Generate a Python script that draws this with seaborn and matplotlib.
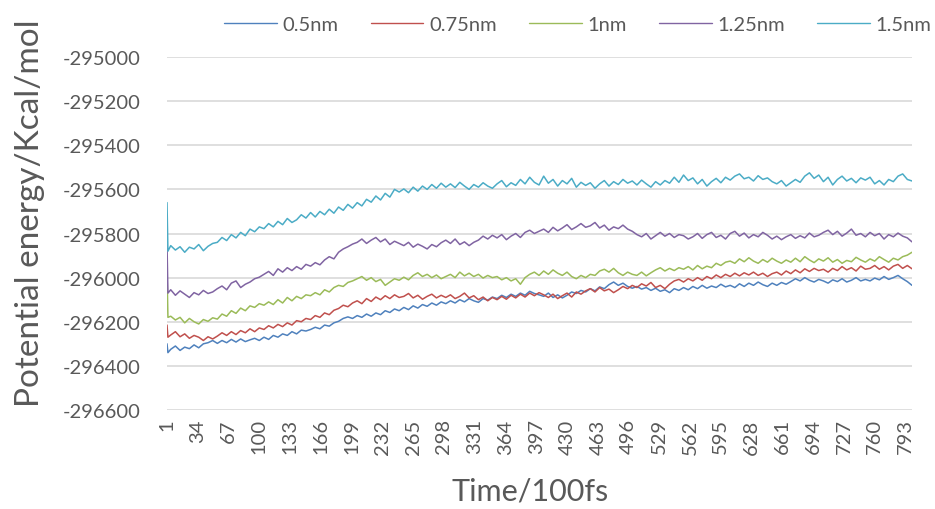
import matplotlib
matplotlib.use("Agg")
import matplotlib.pyplot as plt
import seaborn as sns
import pandas as pd

# ---------------- data ----------------
SERIES = ["0.5nm", "0.75nm", "1nm", "1.25nm", "1.5nm"]
COLORS = ["#4F81BD", "#C0504D", "#9BBB59", "#8064A2", "#4BACC6"]

TIME = [1, 2] + list(range(5, 801, 5))

E_05 = [-296300, -296340,
        -296325, -296310, -296330, -296315, -296322, -296305, -296318, -296300, -296295, -296285,
        -296298, -296285, -296295, -296280, -296292, -296278, -296290, -296282, -296275, -296285,
        -296270, -296280, -296262, -296270, -296255, -296262, -296245, -296255, -296238, -296242,
        -296235, -296225, -296232, -296215, -296220, -296205, -296198, -296185, -296178, -296185,
        -296172, -296180, -296165, -296175, -296160, -296168, -296150, -296158, -296142, -296150,
        -296135, -296145, -296128, -296138, -296122, -296130, -296115, -296125, -296110, -296118,
        -296105, -296115, -296100, -296110, -296095, -296105, -296112, -296095, -296102, -296088,
        -296095, -296080, -296090, -296075, -296085, -296070, -296080, -296062, -296072, -296078,
        -296085, -296070, -296090, -296078, -296092, -296080, -296065, -296072, -296058, -296065,
        -296050, -296060, -296042, -296050, -296032, -296020, -296035, -296025, -296040, -296048,
        -296040, -296052, -296045, -296058, -296048, -296062, -296055, -296068, -296050, -296058,
        -296045, -296055, -296040, -296050, -296035, -296048, -296038, -296045, -296030, -296042,
        -296035, -296045, -296028, -296040, -296025, -296035, -296020, -296032, -296040, -296025,
        -296035, -296022, -296030, -296018, -296005, -296015, -296000, -296012, -296020, -296008,
        -296015, -296025, -296010, -296018, -296005, -296020, -296012, -296000, -296015, -296008,
        -296015, -296002, -296010, -295995, -296008, -296000, -295990, -296005, -296018, -296035]

E_075 = [-296215, -296270,
         -296260, -296245, -296268, -296255, -296275, -296262, -296270, -296285, -296268, -296278,
         -296265, -296250, -296262, -296245, -296258, -296240, -296250, -296232, -296245, -296228,
         -296235, -296218, -296228, -296212, -296222, -296205, -296215, -296195, -296200, -296185,
         -296190, -296172, -296180, -296160, -296168, -296148, -296140, -296125, -296132, -296115,
         -296105, -296118, -296095, -296108, -296088, -296100, -296082, -296095, -296078, -296090,
         -296085, -296072, -296092, -296080, -296098, -296085, -296075, -296092, -296080, -296090,
         -296078, -296095, -296085, -296070, -296092, -296082, -296100, -296088, -296105, -296090,
         -296100, -296085, -296098, -296080, -296092, -296075, -296088, -296070, -296082, -296068,
         -296078, -296090, -296075, -296095, -296082, -296070, -296088, -296065, -296075, -296060,
         -296050, -296065, -296045, -296060, -296052, -296068, -296055, -296040, -296050, -296035,
         -296045, -296028, -296038, -296022, -296045, -296035, -296050, -296030, -296015, -296008,
         -296020, -296005, -296015, -296000, -296012, -295995, -296005, -295988, -296000, -295985,
         -295995, -295980, -295992, -295978, -295988, -295975, -295990, -295980, -295995, -295982,
         -295975, -295988, -295970, -295982, -295965, -295978, -295960, -295972, -295958, -295968,
         -295962, -295975, -295958, -295968, -295950, -295965, -295955, -295970, -295948, -295962,
         -295958, -295945, -295962, -295950, -295965, -295948, -295940, -295958, -295945, -295960]

E_1 = [-295970, -296180,
       -296175, -296192, -296180, -296205, -296185, -296200, -296210, -296190, -296198, -296182,
       -296188, -296165, -296175, -296150, -296162, -296138, -296150, -296128, -296135, -296118,
       -296125, -296110, -296122, -296100, -296115, -296090, -296105, -296085, -296095, -296078,
       -296082, -296068, -296078, -296055, -296065, -296045, -296035, -296040, -296022, -296015,
       -296005, -295995, -296012, -296000, -296018, -296008, -296035, -296020, -296005, -296012,
       -295998, -296010, -295990, -295978, -295995, -295985, -296000, -295988, -296005, -295995,
       -295985, -296000, -295975, -295992, -295980, -295995, -295985, -296002, -295990, -296000,
       -295995, -296010, -296000, -296015, -296005, -296030, -296000, -295985, -295975, -295990,
       -295970, -295985, -295965, -295980, -295990, -295975, -295995, -296005, -295990, -296000,
       -295985, -295990, -295970, -295962, -295975, -295958, -295978, -295990, -295975, -295985,
       -295990, -295975, -295992, -295978, -295965, -295955, -295970, -295958, -295968, -295955,
       -295962, -295950, -295965, -295945, -295960, -295948, -295955, -295935, -295945, -295930,
       -295925, -295935, -295915, -295928, -295910, -295925, -295935, -295918, -295930, -295912,
       -295925, -295935, -295920, -295930, -295912, -295928, -295905, -295920, -295932, -295915,
       -295925, -295910, -295930, -295918, -295935, -295922, -295928, -295908, -295920, -295930,
       -295915, -295925, -295905, -295918, -295930, -295912, -295920, -295905, -295898, -295885]

E_125 = [-295850, -296070,
         -296055, -296080, -296060, -296075, -296090, -296068, -296078, -296058, -296072, -296065,
         -296050, -296038, -296055, -296025, -296015, -296045, -296030, -296020, -296005, -295998,
         -295985, -295972, -295990, -295960, -295975, -295955, -295968, -295950, -295962, -295940,
         -295948, -295932, -295942, -295920, -295905, -295915, -295885, -295870, -295860, -295848,
         -295840, -295825, -295845, -295830, -295818, -295838, -295825, -295850, -295835, -295845,
         -295855, -295840, -295862, -295848, -295858, -295870, -295850, -295860, -295842, -295830,
         -295845, -295825, -295850, -295838, -295855, -295840, -295830, -295812, -295825, -295808,
         -295820, -295805, -295828, -295812, -295800, -295818, -295795, -295785, -295800, -295790,
         -295780, -295795, -295772, -295788, -295775, -295760, -295782, -295770, -295755, -295772,
         -295765, -295750, -295775, -295762, -295785, -295770, -295778, -295762, -295780, -295790,
         -295805, -295815, -295800, -295825, -295810, -295795, -295812, -295800, -295818, -295805,
         -295810, -295825, -295815, -295800, -295822, -295805, -295795, -295818, -295808, -295825,
         -295800, -295790, -295812, -295798, -295820, -295805, -295815, -295795, -295808, -295825,
         -295812, -295828, -295815, -295805, -295822, -295810, -295820, -295798, -295815, -295808,
         -295795, -295785, -295805, -295790, -295812, -295798, -295780, -295808, -295800, -295815,
         -295795, -295810, -295800, -295825, -295805, -295815, -295798, -295812, -295820, -295838]

E_15 = [-295660, -295880,
        -295855, -295875, -295860, -295885, -295862, -295870, -295850, -295878, -295858, -295845,
        -295840, -295818, -295832, -295805, -295820, -295795, -295810, -295780, -295792, -295770,
        -295778, -295755, -295770, -295745, -295760, -295732, -295750, -295738, -295715, -295730,
        -295705, -295725, -295700, -295715, -295690, -295708, -295680, -295695, -295668, -295685,
        -295660, -295675, -295645, -295658, -295630, -295648, -295618, -295635, -295600, -295612,
        -295598, -295615, -295590, -295608, -295585, -295600, -295578, -295595, -295572, -295590,
        -295575, -295592, -295568, -295585, -295600, -295578, -295590, -295570, -295585, -295595,
        -295575, -295560, -295588, -295570, -295582, -295555, -295575, -295545, -295568, -295580,
        -295540, -295572, -295555, -295585, -295560, -295575, -295550, -295590, -295568, -295582,
        -295570, -295595, -295575, -295560, -295585, -295565, -295578, -295555, -295572, -295562,
        -295580, -295558, -295575, -295590, -295565, -295580, -295560, -295572, -295545, -295568,
        -295535, -295560, -295548, -295575, -295555, -295585, -295565, -295550, -295570, -295545,
        -295558, -295540, -295530, -295552, -295545, -295562, -295538, -295555, -295548, -295565,
        -295575, -295560, -295585, -295570, -295555, -295568, -295540, -295525, -295550, -295535,
        -295565, -295545, -295580, -295555, -295540, -295562, -295550, -295570, -295548, -295558,
        -295545, -295575, -295560, -295580, -295555, -295565, -295540, -295530, -295555, -295562]

X_TICKS = [1, 34, 67, 100, 133, 166, 199, 232, 265, 298, 331, 364, 397, 430,
           463, 496, 529, 562, 595, 628, 661, 694, 727, 760, 793]
Y_TICKS = [-295000, -295200, -295400, -295600, -295800, -296000, -296200, -296400, -296600]

X_TITLE = "Time/100fs"
Y_TITLE = "Potential energy/Kcal/mol"

# ---------------- build table ----------------
frames = []
for name, vals in zip(SERIES, [E_05, E_075, E_1, E_125, E_15]):
    frames.append(pd.DataFrame({"Time": TIME, "Energy": vals, "Series": name}))
df = pd.concat(frames, ignore_index=True)

# ---------------- plot ----------------
sns.set_style("white")
plt.rcParams["font.family"] = ["Lato", "DejaVu Sans"]
plt.rcParams["axes.unicode_minus"] = False

W, H = 935, 510
fig = plt.figure(figsize=(W / 100, H / 100), dpi=100)
ax = fig.add_axes([167 / W, 1 - 411 / H, (912 - 167) / W, (411 - 58) / H])

sns.lineplot(data=df, x="Time", y="Energy", hue="Series", hue_order=SERIES,
             palette=COLORS, estimator=None, sort=False, linewidth=1.1, ax=ax)

ax.set_xlim(1, 800)
ax.set_ylim(-296600, -295000)
ax.set_yticks(Y_TICKS)
ax.set_yticklabels([str(v) for v in Y_TICKS])
ax.set_xticks(X_TICKS)
ax.set_xticklabels([str(v) for v in X_TICKS], rotation=90)
ax.tick_params(axis="both", length=0, labelsize=14.5, colors="#595959")
ax.tick_params(axis="x", pad=6)
ax.tick_params(axis="y", pad=19)

ax.grid(axis="y", color="#D9D9D9", linewidth=1.2)
ax.grid(axis="x", visible=False)
ax.set_axisbelow(True)
for s in ax.spines.values():
    s.set_visible(False)

ax.set_xlabel("")
ax.set_ylabel("")
fig.text(530 / W, 1 - 492 / H, X_TITLE, ha="center", va="center",
         fontsize=22, color="#595959")
fig.text(30 / W, 1 - 213 / H, Y_TITLE, ha="center", va="center",
         fontsize=24, color="#595959", rotation=90)

handles, labels = ax.get_legend_handles_labels()
if ax.legend_:
    ax.legend_.remove()
leg = fig.legend(handles, labels, loc="center", bbox_to_anchor=(578 / W, 1 - 25 / H),
                 ncol=5, frameon=False, fontsize=14.5, handlelength=2.6,
                 handletextpad=0.3, columnspacing=1.6, borderpad=0)
for t in leg.get_texts():
    t.set_color("#595959")
for l in leg.get_lines():
    l.set_linewidth(1.0)

fig.savefig("out.png", dpi=100)
